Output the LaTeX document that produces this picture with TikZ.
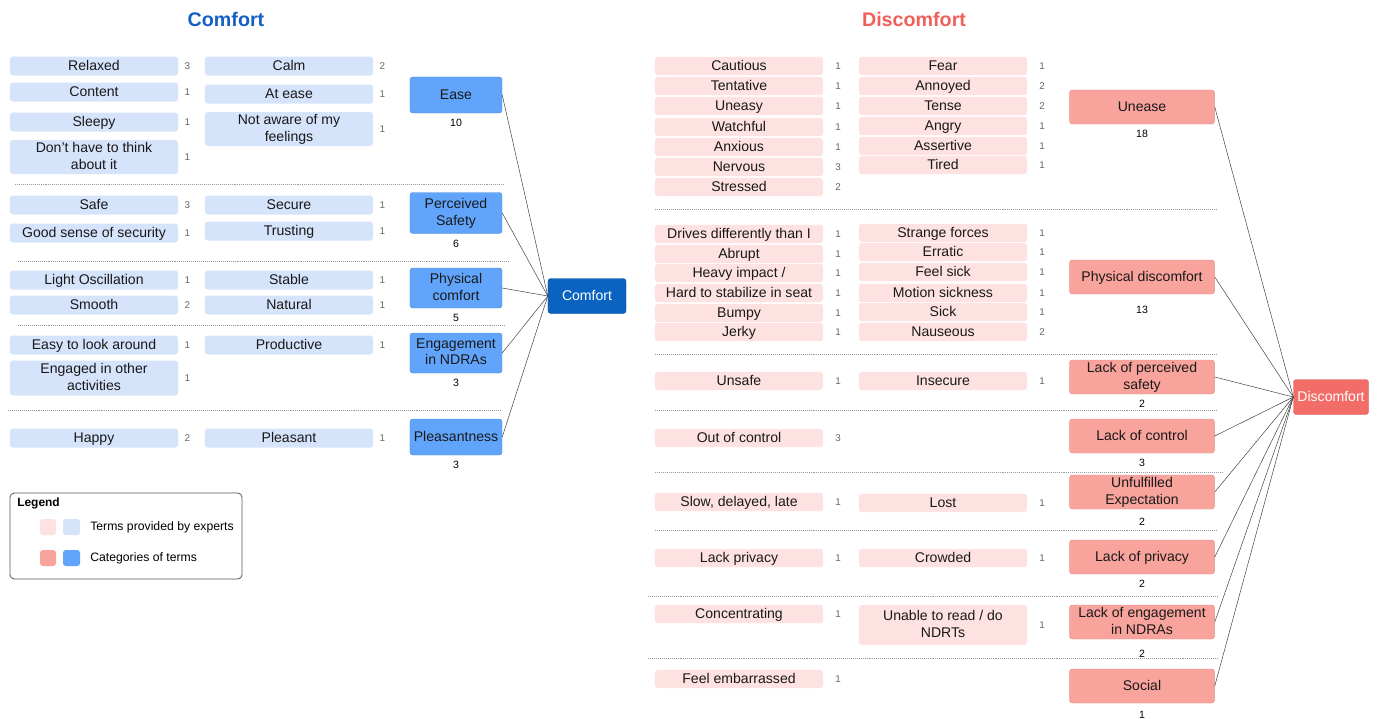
\documentclass[tikz,border=0pt]{standalone}
\usepackage{fontspec}
\setmainfont{Liberation Sans}
\usepackage{tikz}
\usepackage{xcolor}
\definecolor{termblue}{HTML}{D5E3FB}
\definecolor{catblue}{HTML}{60A5FB}
\definecolor{mainblue}{HTML}{0B63C1}
\definecolor{termpink}{HTML}{FDE2E1}
\definecolor{catpink}{HTML}{F9A39D}
\definecolor{mainpink}{HTML}{F26D68}
\definecolor{titleblue}{HTML}{135FC4}
\definecolor{titlepink}{HTML}{F0605B}
\newcommand{\boxstrut}{\rule[-2pt]{0pt}{11pt}}

\begin{document}
\begin{tikzpicture}[x=0.025cm,y=-0.025cm,
  box/.style={rounded corners=2pt, inner sep=1pt, align=center, text=black!90, font=\fontsize{10}{12}\selectfont,
    execute at begin node=\boxstrut, execute at end node=\boxstrut},
  cterm/.style={box, fill=termblue, minimum width=4.2cm, minimum height=0.475cm},
  dterm/.style={box, fill=termpink, minimum width=4.2cm, minimum height=0.425cm},
  ccat/.style={box, fill=catblue, draw=catblue!85!black, line width=0.3pt, minimum width=2.3cm, minimum height=0.9cm},
  dcat/.style={box, fill=catpink, draw=catpink!90!black, line width=0.3pt, minimum width=3.625cm, minimum height=0.85cm},
  num/.style={font=\fontsize{7}{8}\selectfont, text=black!60, label distance=1pt},
  dnum/.style={num, label distance=5pt},
  cnum/.style={font=\fontsize{7.5}{8}\selectfont, text=black, label distance=1pt},
  sep/.style={black!40, line width=0.6pt, dash pattern=on 0.6pt off 0.8pt},
  link/.style={black!75, line width=0.35pt},
]
\useasboundingbox (0,0) rectangle (1378,718);

% titles
\node[font=\fontsize{14}{16}\selectfont\bfseries, text=titleblue] (comforttitle) at (226,19) {Comfort};
\node[font=\fontsize{14}{16}\selectfont\bfseries, text=titlepink] (discomforttitle) at (914,19) {Discomfort};

% comfort: ease
\node[cterm, label={[num]right:3}] (relaxed) at (94,66) {Relaxed};
\node[cterm, label={[num]right:1}] (content) at (94,92) {Content};
\node[cterm, label={[num]right:1}] (sleepy) at (94,122) {Sleepy};
\node[cterm, minimum height=0.85cm, label={[num]right:1}] (dontthink) at (94,157) {Don't have to think\\about it};
\node[cterm, label={[num]right:2}] (calm) at (289,66) {Calm};
\node[cterm, label={[num]right:1}] (atease) at (289,94) {At ease};
\node[cterm, minimum height=0.85cm, label={[num]right:1}] (notaware) at (289,129) {Not aware of my\\feelings};
\node[ccat, label={[cnum]below:10}] (ease) at (456,95) {Ease};
\draw[sep] (15,184) -- (505,184);

% comfort: safety
\node[cterm, label={[num]right:3}] (safe) at (94,205) {Safe};
\node[cterm, label={[num]right:1}] (goodsense) at (94,233) {Good sense of security};
\node[cterm, label={[num]right:1}] (secure) at (289,205) {Secure};
\node[cterm, label={[num]right:1}] (trusting) at (289,231) {Trusting};
\node[ccat, minimum height=1.025cm, label={[cnum]below:6}] (safety) at (456,213) {Perceived\\Safety};
\draw[sep] (18,261) -- (510,261);

% comfort: physical
\node[cterm, label={[num]right:1}] (lightosc) at (94,280) {Light Oscillation};
\node[cterm, label={[num]right:2}] (smooth) at (94,305) {Smooth};
\node[cterm, label={[num]right:1}] (stable) at (289,280) {Stable};
\node[cterm, label={[num]right:1}] (natural) at (289,305) {Natural};
\node[ccat, minimum height=1cm, label={[cnum]below:5}] (physical) at (456,288) {Physical\\comfort};
\draw[sep] (18,325) -- (505,325);

% comfort: engagement
\node[cterm, label={[num]right:1}] (easylook) at (94,345) {Easy to look around};
\node[cterm, minimum height=0.875cm, label={[num]right:1}] (engaged) at (94,378) {Engaged in other\\activities};
\node[cterm, label={[num]right:1}] (productive) at (289,345) {Productive};
\node[ccat, minimum height=1cm, label={[cnum]below:3}] (engagement) at (456,353) {Engagement\\in NDRAs};
\draw[sep] (8,410) -- (502,410);

% comfort: pleasantness
\node[cterm, label={[num]right:2}] (happy) at (94,438) {Happy};
\node[cterm, label={[num]right:1}] (pleasant) at (289,438) {Pleasant};
\node[ccat, label={[cnum]below:3}] (pleasantness) at (456,437) {Pleasantness};

\node[box, fill=mainblue, draw=mainblue!80!black, line width=0.3pt, text=white, minimum width=1.95cm, minimum height=0.875cm] (comfort) at (587,296) {Comfort};
\draw[link] (ease.east) -- (comfort.west);
\draw[link] (safety.east) -- (comfort.west);
\draw[link] (physical.east) -- (comfort.west);
\draw[link] (engagement.east) -- (comfort.west);
\draw[link] (pleasantness.east) -- (comfort.west);

% legend
\draw[rounded corners=3pt, black!65, line width=0.6pt] (10,493) rectangle (242,579);
\node[anchor=west, font=\fontsize{8.5}{10}\selectfont\bfseries, inner sep=0pt] (legend) at (17,503) {Legend};
\fill[termpink, rounded corners=2pt] (40,519) rectangle (56,535);
\fill[termblue, rounded corners=2pt] (63,519) rectangle (80,535);
\node[anchor=west, font=\fontsize{8.7}{10}\selectfont, inner sep=0pt] (legterms) at (90,527) {Terms provided by experts};
\fill[catpink, rounded corners=2pt] (40,550) rectangle (56,566);
\fill[catblue, rounded corners=2pt] (63,550) rectangle (80,566);
\node[anchor=west, font=\fontsize{8.7}{10}\selectfont, inner sep=0pt] (legcats) at (90,558) {Categories of terms};

% discomfort: unease
\node[dterm, label={[dnum]right:1}] (cautious) at (739,66) {Cautious};
\node[dterm, label={[dnum]right:1}] (tentative) at (739,86) {Tentative};
\node[dterm, label={[dnum]right:1}] (uneasy) at (739,106) {Uneasy};
\node[dterm, label={[dnum]right:1}] (watchful) at (739,127) {Watchful};
\node[dterm, label={[dnum]right:1}] (anxious) at (739,147) {Anxious};
\node[dterm, label={[dnum]right:3}] (nervous) at (739,167) {Nervous};
\node[dterm, label={[dnum]right:2}] (stressed) at (739,187) {Stressed};
\node[dterm, label={[dnum]right:1}] (fear) at (943,66) {Fear};
\node[dterm, label={[dnum]right:2}] (annoyed) at (943,86) {Annoyed};
\node[dterm, label={[dnum]right:2}] (tense) at (943,106) {Tense};
\node[dterm, label={[dnum]right:1}] (angry) at (943,126) {Angry};
\node[dterm, label={[dnum]right:1}] (assertive) at (943,146) {Assertive};
\node[dterm, label={[dnum]right:1}] (tired) at (943,165) {Tired};
\node[dcat, label={[cnum]below:18}] (unease) at (1142,107) {Unease};
\draw[sep] (655,209) -- (1217,209);

% discomfort: physical
\node[dterm, label={[dnum]right:1}] (drives) at (739,234) {Drives differently than I};
\node[dterm, label={[dnum]right:1}] (abrupt) at (739,254) {Abrupt};
\node[dterm, label={[dnum]right:1}] (heavy) at (739,273) {Heavy impact /};
\node[dterm, label={[dnum]right:1}] (hardstab) at (739,293) {Hard to stabilize in seat};
\node[dterm, label={[dnum]right:1}] (bumpy) at (739,313) {Bumpy};
\node[dterm, label={[dnum]right:1}] (jerky) at (739,332) {Jerky};
\node[dterm, label={[dnum]right:1}] (strange) at (943,233) {Strange forces};
\node[dterm, label={[dnum]right:1}] (erratic) at (943,252) {Erratic};
\node[dterm, label={[dnum]right:1}] (feelsick) at (943,272) {Feel sick};
\node[dterm, label={[dnum]right:1}] (motion) at (943,293) {Motion sickness};
\node[dterm, label={[dnum]right:1}] (sick) at (943,312) {Sick};
\node[dterm, label={[dnum]right:2}] (nauseous) at (943,332) {Nauseous};
\node[dcat, label={[cnum,label distance=5pt]below:13}] (physdis) at (1142,277) {Physical discomfort};
\draw[sep] (655,354) -- (1217,354);

% discomfort: safety
\node[dterm, label={[dnum]right:1}] (unsafe) at (739,381) {Unsafe};
\node[dterm, label={[dnum]right:1}] (insecure) at (943,381) {Insecure};
\node[dcat, label={[cnum]below:2}] (percsafety) at (1142,377) {Lack of perceived\\safety};
\draw[sep] (655,410) -- (1217,410);

% discomfort: control
\node[dterm, label={[dnum]right:3}] (outofcontrol) at (739,438) {Out of control};
\node[dcat, label={[cnum]below:3}] (lackcontrol) at (1142,436) {Lack of control};
\draw[sep] (655,472) -- (1222,472);

% discomfort: expectation
\node[dterm, label={[dnum]right:1}] (slow) at (739,502) {Slow, delayed, late};
\node[dterm, label={[dnum]right:1}] (lost) at (943,503) {Lost};
\node[dcat, label={[cnum,label distance=3pt]below:2}] (unfulfilled) at (1142,492) {Unfulfilled\\Expectation};
\draw[sep] (655,530) -- (1217,530);

% discomfort: privacy
\node[dterm, label={[dnum]right:1}] (lackpriv) at (739,558) {Lack privacy};
\node[dterm, label={[dnum]right:1}] (crowded) at (943,558) {Crowded};
\node[dcat, label={[cnum]below:2}] (lackprivacy) at (1142,557) {Lack of privacy};
\draw[sep] (648,596) -- (1217,596);

% discomfort: engagement
\node[dterm, label={[dnum]right:1}] (concentrating) at (739,614) {Concentrating};
\node[dterm, minimum height=1cm, label={[dnum]right:1}] (unable) at (943,625) {Unable to read / do\\NDRTs};
\node[dcat, label={[cnum,label distance=4pt]below:2}] (lackengage) at (1142,622) {Lack of engagement\\in NDRAs};
\draw[sep] (648,658) -- (1217,658);

% discomfort: social
\node[dterm, label={[dnum]right:1}] (embarrassed) at (739,679) {Feel embarrassed};
\node[dcat, label={[cnum,label distance=2pt]below:1}] (social) at (1142,686) {Social};

\node[box, fill=mainpink, draw=mainpink!85!black, line width=0.3pt, text=white, minimum width=1.875cm, minimum height=0.875cm] (discomfort) at (1331,397) {Discomfort};
\draw[link] (unease.east) -- (discomfort.west);
\draw[link] (physdis.east) -- (discomfort.west);
\draw[link] (percsafety.east) -- (discomfort.west);
\draw[link] (lackcontrol.east) -- (discomfort.west);
\draw[link] (unfulfilled.east) -- (discomfort.west);
\draw[link] (lackprivacy.east) -- (discomfort.west);
\draw[link] (lackengage.east) -- (discomfort.west);
\draw[link] (social.east) -- (discomfort.west);
\end{tikzpicture}
\end{document}
